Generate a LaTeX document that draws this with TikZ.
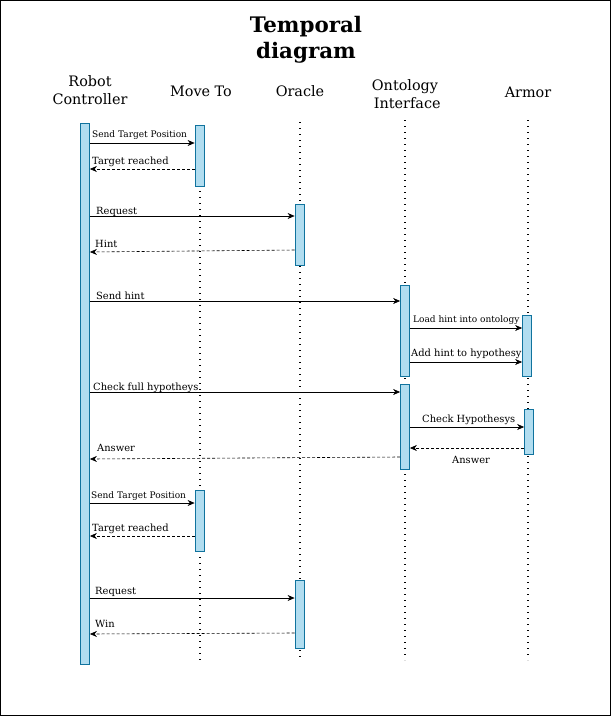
\documentclass[tikz,border=0pt]{standalone}
\usepackage{fontspec}
\setmainfont{DejaVu Serif}
\usetikzlibrary{arrows.meta}
\definecolor{barfill}{HTML}{B1DDF0}
\definecolor{barline}{HTML}{10739E}
\begin{document}
\begin{tikzpicture}[x=1pt,y=-1pt,
 bar/.style={draw=barline, fill=barfill, line width=0.8pt, minimum width=9pt, inner sep=0pt},
 life/.style={line width=1.4pt, dash pattern=on 1.4pt off 4.6pt},
 msg/.style={-{Stealth[length=7pt,width=6pt]}, line width=0.6pt},
 reply/.style={msg, dash pattern=on 3pt off 2pt},
 lab/.style={font=\fontsize{9.9}{11}\selectfont, inner sep=0pt, anchor=base west},
 slab/.style={lab, font=\fontsize{9}{10}\selectfont},
 head/.style={font=\fontsize{14.4}{18}\selectfont, align=center, inner sep=0pt}
]
\useasboundingbox (0,0) rectangle (611,716);
\draw[line width=1pt] (0.5,0.5) rectangle (610.5,715.5);
% title
\node[font=\bfseries\fontsize{21.4}{26}\selectfont, align=center, inner sep=0pt] (title) at (306,40) {Temporal\\diagram};
% headers
\node[head] (h1) at (90,90) {Robot\\Controller};
\node[head] (h2) at (201,91) {Move To};
\node[head] (h3) at (300,91) {Oracle};
\node[head] (h4) at (405,94) {Ontology\\\ Interface};
\node[head] (h5) at (528,92) {Armor};
% lifelines
\coordinate (l2a) at (200,125); \coordinate (l2b) at (200,660);
\coordinate (l3a) at (300,122); \coordinate (l3b) at (300,660);
\coordinate (l4a) at (405,120); \coordinate (l4b) at (405,660);
\coordinate (l5a) at (528,120); \coordinate (l5b) at (528,660);
\draw[life] (l2a) -- (l2b);
\draw[life] (l3a) -- (l3b);
\draw[life] (l4a) -- (l4b);
\draw[life] (l5a) -- (l5b);
% bars
\node[bar, minimum height=541pt] (rc) at (85,393.5) {};
\node[bar, minimum height=61pt] (mt1) at (199.5,155.5) {};
\node[bar, minimum height=61pt] (or1) at (299.5,234.5) {};
\node[bar, minimum height=91pt] (oi1) at (405,330.5) {};
\node[bar, minimum height=61pt] (ar1) at (527,345.5) {};
\node[bar, minimum height=85pt] (oi2) at (405,426.5) {};
\node[bar, minimum height=45pt] (ar2) at (529,431.5) {};
\node[bar, minimum height=61pt] (mt2) at (199.5,520.5) {};
\node[bar, minimum height=68pt] (or2) at (299.5,614) {};
% messages
\draw[msg] (rc.east |- 0,143) -- (mt1.west |- 0,143);
\draw[reply] (mt1.west |- 0,169) -- (rc.east |- 0,169);
\draw[msg] (rc.east |- 0,216) -- (or1.west |- 0,216);
\draw[reply] (or1.west |- 0,250) -- (rc.east |- 0,252);
\draw[msg] (rc.east |- 0,301) -- (oi1.west |- 0,301);
\draw[msg] (oi1.east |- 0,328) -- (ar1.west |- 0,328);
\draw[msg] (oi1.east |- 0,362) -- (ar1.west |- 0,362);
\draw[msg] (rc.east |- 0,392) -- (oi2.west |- 0,392);
\draw[msg] (oi2.east |- 0,427) -- (ar2.west |- 0,427);
\draw[reply] (ar2.west |- 0,448) -- (oi2.east |- 0,448);
\draw[reply] (oi2.west |- 0,457) -- (rc.east |- 0,459);
\draw[msg] (rc.east |- 0,503) -- (mt2.west |- 0,503);
\draw[reply] (mt2.west |- 0,536) -- (rc.east |- 0,536);
\draw[msg] (rc.east |- 0,598) -- (or2.west |- 0,598);
\draw[reply] (or2.west |- 0,633) -- (rc.east |- 0,634);
% labels
\node[slab] (t1) at (92,137) {Send Target Position};
\node[lab] (t2) at (92,164) {Target reached};
\node[lab] (t3) at (96,214) {Request};
\node[lab] (t4) at (95,247) {Hint};
\node[lab] (t5) at (96,299) {Send hint};
\node[slab] (t6) at (413,322) {Load hint into ontology};
\node[lab] (t7) at (411,356) {Add hint to hypothesy};
\node[lab] (t8) at (93,390) {Check full hypotheys};
\node[lab] (t9) at (422,422) {Check Hypothesys};
\node[lab] (t10) at (452,463) {Answer};
\node[lab] (t11) at (97,451) {Answer};
\node[slab] (t12) at (91,498) {Send Target Position};
\node[lab] (t13) at (92,531) {Target reached};
\node[lab] (t14) at (95,594) {Request};
\node[lab] (t15) at (95,627) {Win};
\end{tikzpicture}
\end{document}
